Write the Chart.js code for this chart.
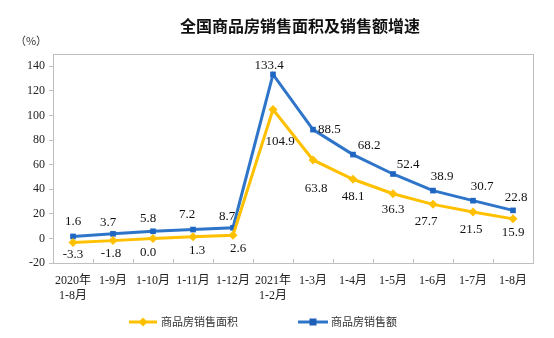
<!DOCTYPE html>
<html>
<head>
<meta charset="utf-8">
<script src="https://cdn.jsdelivr.net/npm/chart.js@4/dist/chart.umd.min.js"></script>
<style>
  html, body { margin: 0; padding: 0; background: #fff; }
  #wrap { width: 554px; height: 338px; }
</style>
</head>
<body>
<div id="wrap"><canvas id="salesChart"></canvas></div>
<script>
// chart data
const months = [["2020年", "1-8月"], "1-9月", "1-10月", "1-11月", "1-12月", ["2021年", "1-2月"],
    "1-3月", "1-4月", "1-5月", "1-6月", "1-7月", "1-8月"];
const areaGrowth = [-3.3, -1.8, 0.0, 1.3, 2.6, 104.9, 63.8, 48.1, 36.3, 27.7, 21.5, 15.9];
const salesGrowth = [1.6, 3.7, 5.8, 7.2, 8.7, 133.4, 88.5, 68.2, 52.4, 38.9, 30.7, 22.8];
const yTicks = [-20, 0, 20, 40, 60, 80, 100, 120, 140];
const titleText = "全国商品房销售面积及销售额增速";
const unitText = "（%）";
const areaName = "商品房销售面积";
const salesName = "商品房销售额";

const YELLOW = "#FFC000";
const BLUE = "#2E75C9";
const SERIF = "'Liberation Serif', 'Noto Sans CJK SC', serif";
const CJK = "'Noto Sans CJK SC', sans-serif";

// label placement (dx, dy from the point, label centre)
const salesLabelPos = [[0, -15], [-5, -11], [-5, -13], [-6, -15], [-6, -11], [-4, -9],
    [17, 0], [16, -9], [15, -9], [9, -14], [9, -14], [3, -13]];
const areaLabelPos = [[0, 12], [-2, 13], [-5, 14], [4, 14], [5, 13], [7, 32],
    [3, 29], [0, 17], [0, 16], [-7, 17], [-2, 18], [0, 14]];

// ===============================
// Extra drawing: frame, ticks, labels, title, legend
// ===============================

const decorPlugin = {
    id: "decor",
    beforeDatasetsDraw(chart) {
        const c = chart.ctx;
        const a = chart.chartArea;
        c.save();
        c.strokeStyle = "#bfbfbf";
        c.lineWidth = 1;
        c.strokeRect(a.left + 0.5, a.top + 0.5, a.right - a.left, a.bottom - a.top);
        // inward tick marks between categories
        const step = (a.right - a.left) / months.length;
        c.beginPath();
        for (let i = 1; i < months.length; i++) {
            const px = Math.round(a.left + step * i) + 0.5;
            c.moveTo(px, a.bottom);
            c.lineTo(px, a.bottom - 4);
        }
        c.stroke();
        c.restore();
    },
    afterDatasetsDraw(chart) {
        const c = chart.ctx;
        c.save();
        c.font = "13px " + SERIF;
        c.fillStyle = "#111";
        c.textAlign = "center";
        c.textBaseline = "middle";

        const areaMeta = chart.getDatasetMeta(0);
        areaMeta.data.forEach((pt, i) => {
            const p = areaLabelPos[i];
            c.fillText(areaGrowth[i].toFixed(1), pt.x + p[0], pt.y + p[1]);
        });
        const salesMeta = chart.getDatasetMeta(1);
        salesMeta.data.forEach((pt, i) => {
            const p = salesLabelPos[i];
            if (i === 6) {
                c.textAlign = "left";
                c.fillText(salesGrowth[i].toFixed(1), pt.x + 5, pt.y + p[1]);
                c.textAlign = "center";
            } else {
                c.fillText(salesGrowth[i].toFixed(1), pt.x + p[0], pt.y + p[1]);
            }
        });

        // title and unit
        c.fillStyle = "#111";
        c.font = "bold 16px " + CJK;
        c.fillText(titleText, 300, 26);
        c.font = "11px " + CJK;
        c.fillStyle = "#333";
        c.fillText(unitText, 31, 41);

        // legend
        const ly = 322;
        c.lineWidth = 3;
        c.strokeStyle = YELLOW;
        c.beginPath();
        c.moveTo(129, ly);
        c.lineTo(157, ly);
        c.stroke();
        c.fillStyle = YELLOW;
        c.beginPath();
        c.moveTo(143, ly - 4.5);
        c.lineTo(147.5, ly);
        c.lineTo(143, ly + 4.5);
        c.lineTo(138.5, ly);
        c.closePath();
        c.fill();

        c.strokeStyle = BLUE;
        c.beginPath();
        c.moveTo(298, ly);
        c.lineTo(328, ly);
        c.stroke();
        c.fillStyle = "#1F5FB8";
        c.fillRect(309.5, ly - 3.5, 7, 7);

        c.fillStyle = "#333";
        c.font = "11px " + CJK;
        c.textAlign = "left";
        c.fillText(areaName, 161, ly);
        c.fillText(salesName, 331, ly);
        c.restore();
    }
};

const chartCtx = document.getElementById("salesChart").getContext("2d");

const salesChart = new Chart(chartCtx, {
    type: "line",
    data: {
        labels: months,
        datasets: [{
            label: areaName,
            data: areaGrowth,
            borderColor: YELLOW,
            backgroundColor: YELLOW,
            borderWidth: 3,
            pointStyle: "rectRot",
            pointRadius: 4.5,
            pointBorderWidth: 0,
            tension: 0,
            fill: false
        }, {
            label: salesName,
            data: salesGrowth,
            borderColor: BLUE,
            backgroundColor: "#1F66C2",
            borderWidth: 3,
            pointStyle: "rect",
            pointRadius: 4,
            pointBorderWidth: 0,
            tension: 0,
            fill: false
        }]
    },
    options: {
        responsive: true,
        maintainAspectRatio: false,
        animation: false,
        devicePixelRatio: 1,
        layout: { padding: { top: 54, right: 21, bottom: 35, left: 0 } },
        plugins: {
            legend: { display: false },
            title: { display: false },
            tooltip: { enabled: false }
        },
        scales: {
            x: {
                offset: true,
                clip: false,
                grid: { display: false },
                border: { color: "#bfbfbf" },
                ticks: {
                    color: "#222",
                    font: { family: SERIF, size: 12, lineHeight: 1.2 },
                    padding: 3,
                    maxRotation: 0,
                    autoSkip: false
                },
                afterFit(scale) { scale.height = 40; }
            },
            y: {
                min: -20,
                max: 150,
                grid: {
                    drawOnChartArea: false,
                    drawTicks: true,
                    tickLength: 4,
                    color: "#bfbfbf"
                },
                border: { color: "#bfbfbf" },
                ticks: {
                    color: "#222",
                    font: { family: SERIF, size: 12 },
                    padding: 4
                },
                afterBuildTicks(scale) {
                    scale.ticks = yTicks.map(v => ({ value: v }));
                },
                afterFit(scale) { scale.width = 53; }
            }
        }
    },
    plugins: [decorPlugin]
});
</script>
</body>
</html>
